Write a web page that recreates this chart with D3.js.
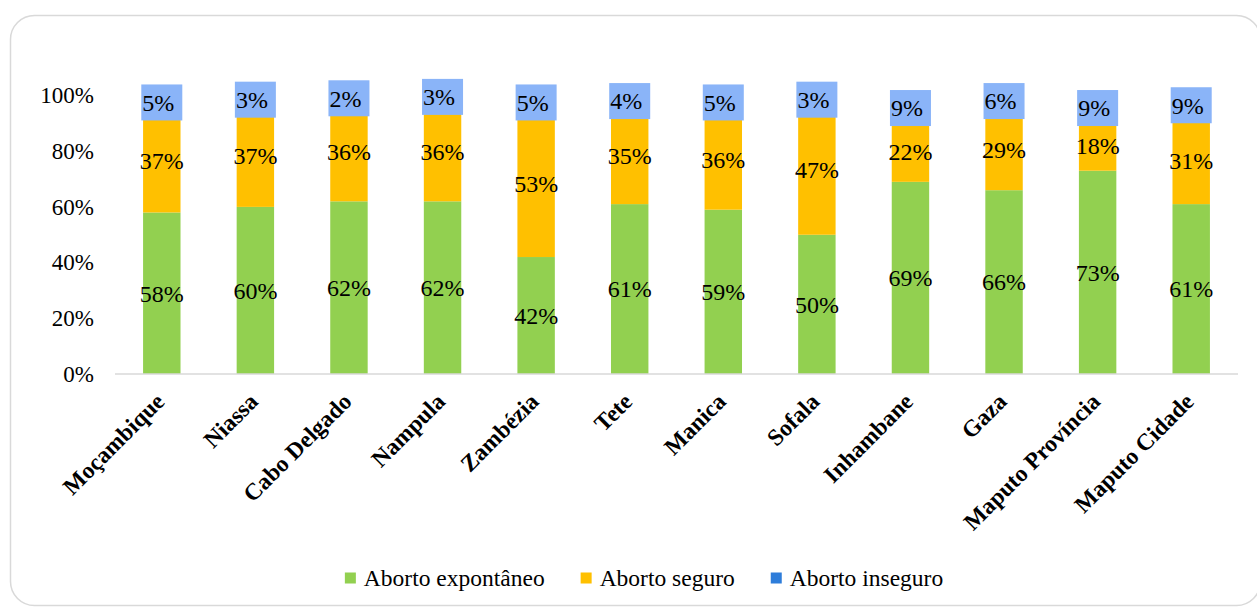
<!DOCTYPE html>
<html>
<head>
<meta charset="utf-8">
<script src="https://cdn.jsdelivr.net/npm/d3@7"></script>
<style>
  body { margin: 0; background: #fff; }
  text { font-family: "Liberation Serif", "Times New Roman", serif; }
</style>
</head>
<body>
<div id="chart"></div>
<script>
// Chart data
var provinces = ["Moçambique", "Niassa", "Cabo Delgado", "Nampula", "Zambézia", "Tete",
    "Manica", "Sofala", "Inhambane", "Gaza", "Maputo Província", "Maputo Cidade"];
var espontaneo = [58, 60, 62, 62, 42, 61, 59, 50, 69, 66, 73, 61];
var seguro = [37, 37, 36, 36, 53, 35, 36, 47, 22, 29, 18, 31];
var inseguro = [5, 3, 2, 3, 5, 4, 5, 3, 9, 6, 9, 9];
var seriesNames = ["Aborto expontâneo", "Aborto seguro", "Aborto inseguro"];
var yTicks = [0, 20, 40, 60, 80, 100];

var colors = ["#92D050", "#FFC000", "#2E7DDA"];
var labelBoxColor = "#8AB4F8";

// Svg and dimensions
var width = 1257, height = 608;
var svg = d3.select("#chart").append("svg").attr("width", width).attr("height", height);

// Card border
svg.append("rect")
    .attr("x", 10.5).attr("y", 15.5)
    .attr("width", 1250).attr("height", 590)
    .attr("rx", 24)
    .attr("fill", "#fff")
    .attr("stroke", "#d9d9d9")
    .attr("stroke-width", 1.5);

var margin = {top: 95.5, left: 115, bottom: 234, right: 19};

// Scales
var xScale = d3.scaleBand()
    .domain(provinces)
    .range([margin.left, width - margin.right])
    .paddingInner(0.6)
    .paddingOuter(0.3);

var yScale = d3.scaleLinear()
    .domain([0, 100])
    .range([height - margin.bottom, margin.top]);

// Stack the three series
var rows = provinces.map(function(p, i) {
    return {province: p, s0: espontaneo[i], s1: seguro[i], s2: inseguro[i]};
});
var stack = d3.stack().keys(["s0", "s1", "s2"]);
var stacked = stack(rows);

// Y axis labels (no axis line)
var yAxis = d3.axisLeft(yScale)
    .tickValues(yTicks)
    .tickSize(0)
    .tickPadding(21)
    .tickFormat(function(d) { return d + "%"; });

var yAxisG = svg.append("g")
    .attr("transform", "translate(" + margin.left + ",0)")
    .call(yAxis);
yAxisG.select(".domain").remove();
yAxisG.selectAll("text")
    .attr("font-size", "23px")
    .attr("fill", "#000")
    .attr("font-family", "Liberation Serif");

// Bars
var layers = svg.selectAll(".layer")
    .data(stacked)
    .enter()
    .append("g")
    .attr("class", "layer")
    .attr("fill", function(d, i) { return colors[i]; });

layers.selectAll("rect")
    .data(function(d) { return d; })
    .enter()
    .append("rect")
    .attr("x", function(d) { return xScale(d.data.province); })
    .attr("width", xScale.bandwidth())
    .attr("y", function(d) { return yScale(d[1]); })
    .attr("height", function(d) { return yScale(d[0]) - yScale(d[1]); });

// X axis line
svg.append("line")
    .attr("x1", margin.left).attr("x2", width - margin.right)
    .attr("y1", yScale(0)).attr("y2", yScale(0))
    .attr("stroke", "#d9d9d9")
    .attr("stroke-width", 1.5);

// Data labels for green and yellow segments
[0, 1].forEach(function(k) {
    svg.append("g").selectAll("text")
        .data(stacked[k])
        .enter()
        .append("text")
        .attr("x", function(d) { return xScale(d.data.province) + xScale.bandwidth() / 2; })
        .attr("y", function(d) { return yScale((d[0] + d[1]) / 2); })
        .attr("dy", "0.35em")
        .attr("text-anchor", "middle")
        .attr("font-size", "24px")
        .attr("fill", "#000")
        .text(function(d) { return (d[1] - d[0]) + "%"; });
});

// Data labels for blue segments, in a filled box
var boxW = 41, boxH = 36;
var blueLabels = svg.append("g").selectAll("g")
    .data(stacked[2])
    .enter()
    .append("g")
    .attr("transform", function(d) {
        var cx = xScale(d.data.province) + xScale.bandwidth() / 2;
        var cy = yScale((d[0] + d[1]) / 2);
        return "translate(" + [cx - boxW / 2, cy - boxH / 2] + ")";
    });

blueLabels.append("rect")
    .attr("width", boxW)
    .attr("height", boxH)
    .attr("fill", labelBoxColor);

blueLabels.append("text")
    .attr("x", 1)
    .attr("y", boxH / 2)
    .attr("dy", "0.35em")
    .attr("font-size", "24px")
    .attr("fill", "#000")
    .text(function(d) { return (d[1] - d[0]) + "%"; });

// Rotated category labels
svg.append("g").selectAll("text")
    .data(provinces)
    .enter()
    .append("text")
    .attr("transform", function(d) {
        var x = xScale(d) + xScale.bandwidth() / 2 + 4;
        var y = yScale(0) + 29;
        return "translate(" + [x, y] + ") rotate(-45)";
    })
    .attr("text-anchor", "end")
    .attr("font-size", "23.5px")
    .attr("font-weight", "bold")
    .attr("fill", "#000")
    .text(function(d) { return d; });

// Legend
var legendG = svg.append("g").attr("transform", "translate(0,578)");
var items = legendG.selectAll("g")
    .data(seriesNames)
    .enter()
    .append("g");

items.append("rect")
    .attr("width", 11)
    .attr("height", 11)
    .attr("y", -5.5)
    .attr("fill", function(d, i) { return colors[i]; });

items.append("text")
    .attr("x", 19)
    .attr("dy", "0.35em")
    .attr("font-size", "23.5px")
    .attr("fill", "#000")
    .text(function(d) { return d; });

// Lay out legend items side by side, centred
var offsets = [], total = 0;
items.each(function(d, i) {
    var w = 19 + this.querySelector("text").getComputedTextLength();
    offsets.push(total);
    total += w + (i < seriesNames.length - 1 ? 36 : 0);
});
var startX = 644 - total / 2;
items.attr("transform", function(d, i) { return "translate(" + (startX + offsets[i]) + ",0)"; });
</script>
</body>
</html>
